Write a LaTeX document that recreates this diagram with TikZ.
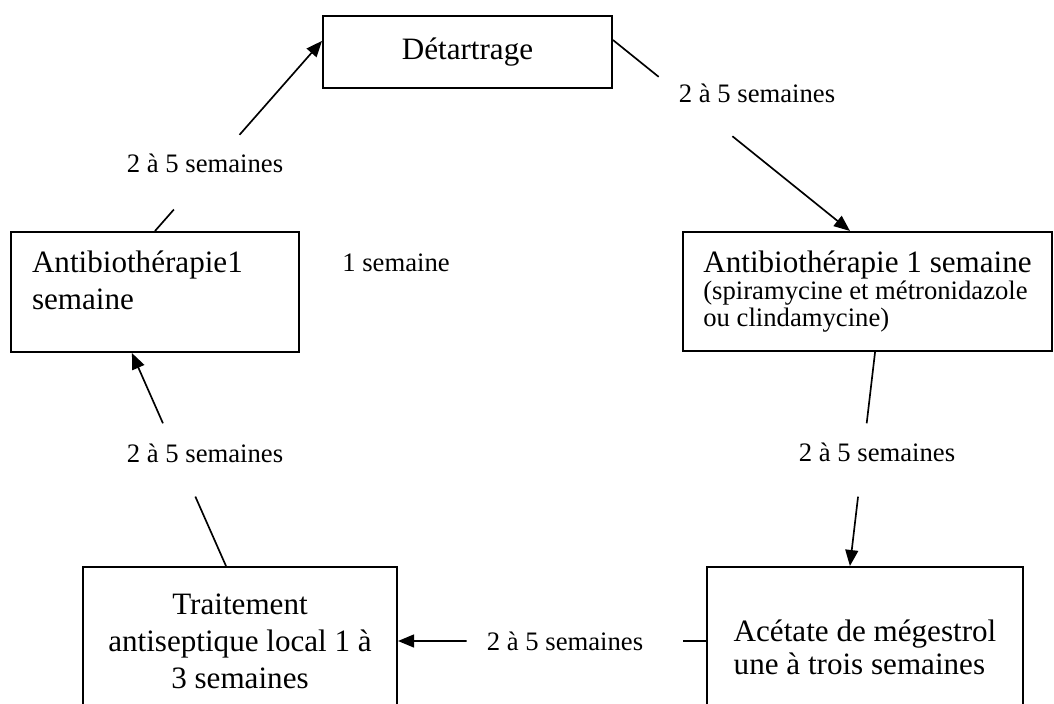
\documentclass[tikz,border=0pt]{standalone}
\usepackage{fontspec}
\setmainfont{Liberation Serif}
\usetikzlibrary{arrows.meta,calc}
\begin{document}
\begin{tikzpicture}[x=0.45pt,y=-0.45pt,
    box/.style={draw,line width=0.9pt,inner sep=0pt,font=\fontsize{14}{16.6}\selectfont},
    lbl/.style={inner sep=0pt,font=\fontsize{12}{14}\selectfont},
    link/.style={line width=0.75pt},
    >={Triangle[length=7.2pt,width=5.8pt]}]
        \useasboundingbox (0,0) rectangle (1054,704);
        \draw (467.5,52) node[box,minimum width=130pt,minimum height=32.4pt](detart){Détartrage};
        \draw (155,292) node[box,minimum width=129.6pt,minimum height=54pt,text width=110.7pt,align=left,text depth=27pt](abL){Antibiothérapie1\\semaine};
        \draw (867.5,291.5) node[box,minimum width=166pt,minimum height=53.6pt,align=left,font=\fontsize{12}{12.2}\selectfont](abR){{\fontsize{14}{16.6}\selectfont Antibiothérapie 1 semaine}\\(spiramycine et métronidazole\\ou clindamycine)};
        \draw (240,641) node[box,minimum width=141.3pt,minimum height=66.6pt,align=center](trait){Traitement\\antiseptique local 1 à\\3 semaines};
        \draw (865,647) node[box,minimum width=142.2pt,minimum height=72pt,align=left,font=\fontsize{14}{15}\selectfont](acet){Acétate de mégestrol\\une à trois semaines};
        \draw (205,163) node[lbl](lblTL){2 à 5 semaines};
        \draw (757,93) node[lbl](lblTR){2 à 5 semaines};
        \draw (396,263) node[lbl](lblOne){1 semaine};
        \draw (877,452) node[lbl](lblR){2 à 5 semaines};
        \draw (205,453) node[lbl](lblL){2 à 5 semaines};
        \draw (565,641) node[lbl](lblB){2 à 5 semaines};
        \coordinate (tlA) at (abL.north);
        \coordinate (tlB) at ([yshift=5pt]detart.west);
        \coordinate (trA) at ([yshift=5.4pt]detart.east);
        \coordinate (trB) at ([xshift=-7.9pt]abR.north);
        \coordinate (rA) at ([xshift=3.4pt]abR.south);
        \coordinate (rB) at ([xshift=-6.8pt]acet.north);
        \coordinate (bA) at (acet.west |- trait.east);
        \coordinate (bB) at (trait.east);
        \coordinate (lA) at ([xshift=-6.3pt]trait.north);
        \coordinate (lB) at ([xshift=-10.4pt]abL.south);
        \draw[link] (tlA) -- ($(tlA)!0.113!(tlB)$);
        \draw[link,->] ($(tlA)!0.506!(tlB)$) -- (tlB);
        \draw[link] (trA) -- ($(trA)!0.193!(trB)$);
        \draw[link,->] ($(trA)!0.504!(trB)$) -- (trB);
        \draw[link] (rA) -- ($(rA)!0.333!(rB)$);
        \draw[link,->] ($(rA)!0.676!(rB)$) -- (rB);
        \draw[link] (bA) -- ($(bA)!0.074!(bB)$);
        \draw[link,->] ($(bA)!0.777!(bB)$) -- (bB);
        \draw[link] (lA) -- ($(lA)!0.326!(lB)$);
        \draw[link,->] ($(lA)!0.67!(lB)$) -- (lB);
    \end{tikzpicture}
\end{document}
